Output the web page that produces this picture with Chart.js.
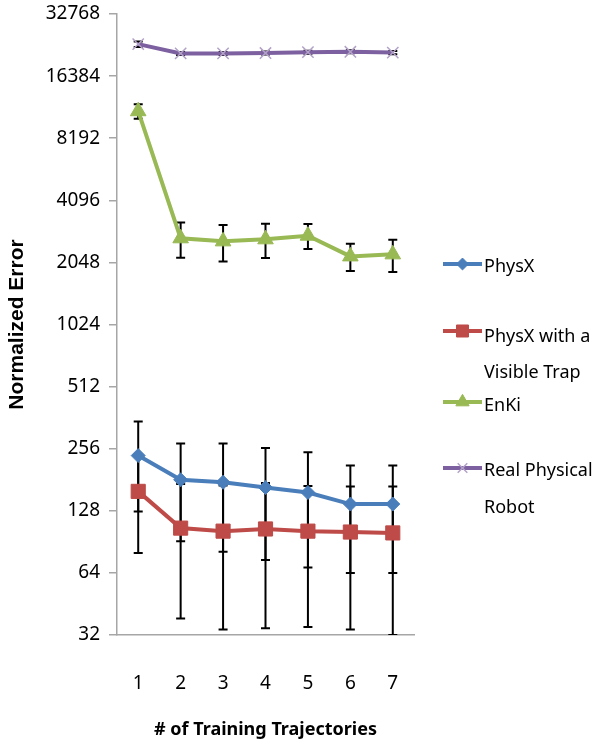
<!DOCTYPE html>
<html><head><meta charset="utf-8">
<script src="https://cdn.jsdelivr.net/npm/chart.js@4/dist/chart.umd.min.js"></script>
<style>html,body{margin:0;padding:0;background:#fff}</style>
</head><body>
<canvas id="c" width="593" height="744" style="width:593px;height:744px;display:block"></canvas>
<script>
// ---- data ----
const categories = ['1','2','3','4','5','6','7'];
const physx      = [237, 181, 176, 166, 157, 138, 138];
const physxErr   = [110, 90, 95, 92, 89, 74, 74];
const trap       = [159, 105.5, 102, 104.5, 102, 101, 100];
const trapErr    = [79, 67, 68, 70, 67, 67, 68];
const enki       = [11070, 2680, 2590, 2650, 2760, 2190, 2240];
const enkiErr    = [900, 520, 520, 500, 380, 330, 400];
const robot      = [23400, 21100, 21100, 21200, 21400, 21500, 21300];
const robotErr   = [700, 350, 350, 350, 350, 350, 400];
const yTicks     = [32, 64, 128, 256, 512, 1024, 2048, 4096, 8192, 16384, 32768];
const yTickLabels = ['32','64','128','256','512','1024','2048','4096','8192','16384','32768'];
const seriesLabels = [['PhysX'], ['PhysX with a', 'Visible Trap'], ['EnKi'], ['Real Physical', 'Robot']];

const FONT = "'Noto Sans', 'Open Sans', sans-serif";
const AXIS = '#a6a6a6';

const styles = [
  {color:'#4a7ebb', pointStyle:'rectRot', radius:7, mFill:'#4a7ebb', mStroke:'#4a7ebb', mWidth:1},
  {color:'#be4b48', pointStyle:'rect', radius:10, mFill:'#be4b48', mStroke:'#be4b48', mWidth:1},
  {color:'#98b954', pointStyle:'triangle', radius:9, mFill:'#98b954', mStroke:'#98b954', mWidth:1},
  {color:'#7d60a0', pointStyle:'crossRot', radius:8, mFill:'#b3a2c7', mStroke:'#b3a2c7', mWidth:1.5}
];
const values = [physx, trap, enki, robot];
const errs = [physxErr, trapErr, enkiErr, robotErr];

const datasets = values.map((v, i) => ({
  label: seriesLabels[i].join(' '),
  data: v,
  errors: errs[i],
  borderColor: styles[i].color,
  backgroundColor: styles[i].mFill,
  borderWidth: 4,
  pointStyle: styles[i].pointStyle,
  pointRadius: styles[i].radius,
  pointHoverRadius: styles[i].radius,
  pointBackgroundColor: styles[i].mFill,
  pointBorderColor: styles[i].mStroke,
  pointBorderWidth: styles[i].mWidth,
  tension: 0,
  fill: false
}));

const errorBars = {
  id: 'errorBars',
  beforeDatasetsDraw(chart) {
    const ctx = chart.ctx, ys = chart.scales.y, a = chart.chartArea;
    ctx.save();
    ctx.beginPath();
    ctx.rect(a.left, a.top - 20, a.right - a.left, a.bottom - a.top + 20);
    ctx.clip();
    ctx.strokeStyle = '#000';
    ctx.lineWidth = 2;
    chart.data.datasets.forEach((ds, i) => {
      const meta = chart.getDatasetMeta(i);
      meta.data.forEach((pt, j) => {
        const v = ds.data[j], e = ds.errors[j];
        const top = ys.getPixelForValue(v + e);
        const lo = v - e;
        const bot = lo > 0 ? ys.getPixelForValue(lo) : a.bottom + 10;
        const x = pt.x;
        ctx.beginPath();
        ctx.moveTo(x, top); ctx.lineTo(x, bot);
        ctx.moveTo(x - 4.5, top); ctx.lineTo(x + 4.5, top);
        if (lo > 0) { ctx.moveTo(x - 4.5, bot); ctx.lineTo(x + 4.5, bot); }
        ctx.stroke();
      });
    });
    ctx.restore();
  }
};

const legendPos = [
  {y: 264, lines: [267]},
  {y: 331, lines: [337, 373]},
  {y: 402, lines: [406]},
  {y: 468, lines: [471, 508]}
];

const customLegend = {
  id: 'customLegend',
  afterDraw(chart) {
    const ctx = chart.ctx;
    ctx.save();
    seriesLabels.forEach((lines, i) => {
      const s = styles[i], p = legendPos[i];
      ctx.strokeStyle = s.color;
      ctx.lineWidth = 4;
      ctx.beginPath();
      ctx.moveTo(443, p.y); ctx.lineTo(482, p.y);
      ctx.stroke();
      ctx.fillStyle = s.mFill;
      ctx.strokeStyle = s.mStroke;
      ctx.lineWidth = s.mWidth;
      Chart.helpers.drawPoint(ctx, {pointStyle: s.pointStyle, radius: s.radius * 0.85, rotation: 0, borderWidth: s.mWidth}, 462.5, p.y);
      ctx.fillStyle = '#000';
      ctx.font = "18px " + FONT;
      ctx.textBaseline = 'middle';
      ctx.textAlign = 'left';
      lines.forEach((t, k) => ctx.fillText(t, 484, p.lines[k]));
    });
    ctx.restore();
  }
};

new Chart(document.getElementById('c'), {
  type: 'line',
  data: { labels: categories, datasets },
  options: {
    responsive: false,
    animation: false,
    devicePixelRatio: 1,
    layout: { padding: { left: 0, right: 179, top: 14, bottom: 0 } },
    plugins: { legend: { display: false }, tooltip: { enabled: false } },
    scales: {
      x: {
        type: 'category',
        offset: true,
        grid: { display: false, drawTicks: false },
        border: { display: true, color: AXIS, width: 1.5 },
        ticks: { color: '#000', font: { family: FONT, size: 19 }, padding: 37, maxRotation: 0 },
        title: { display: true, text: '# of Training Trajectories', color: '#000',
                 font: { family: FONT, size: 18, weight: 'bold' }, padding: { top: 0, bottom: 3 } },
        afterFit(s) { s.height = 744 - 635; s.paddingLeft = 0; s.paddingRight = 0; }
      },
      y: {
        type: 'logarithmic',
        min: 32, max: 32768,
        afterBuildTicks(s) { s.ticks = yTicks.map(v => ({ value: v })); },
        grid: { display: true, drawOnChartArea: false, drawTicks: true, tickLength: 8, color: AXIS, lineWidth: 1.5 },
        border: { display: true, color: AXIS, width: 1.5 },
        ticks: { color: '#000', font: { family: FONT, size: 19 }, padding: 9,
                 callback: (v, i) => yTickLabels[i] },
        title: { display: true, text: 'Normalized Error', color: '#000',
                 font: { family: "'Liberation Sans', Arial, sans-serif", size: 21, weight: 'bold' }, padding: { top: 5, bottom: 4 } },
        afterFit(s) { s.width = 117; s.paddingTop = 0; s.paddingBottom = 0; }
      }
    }
  },
  plugins: [errorBars, customLegend]
});
</script>
</body></html>
